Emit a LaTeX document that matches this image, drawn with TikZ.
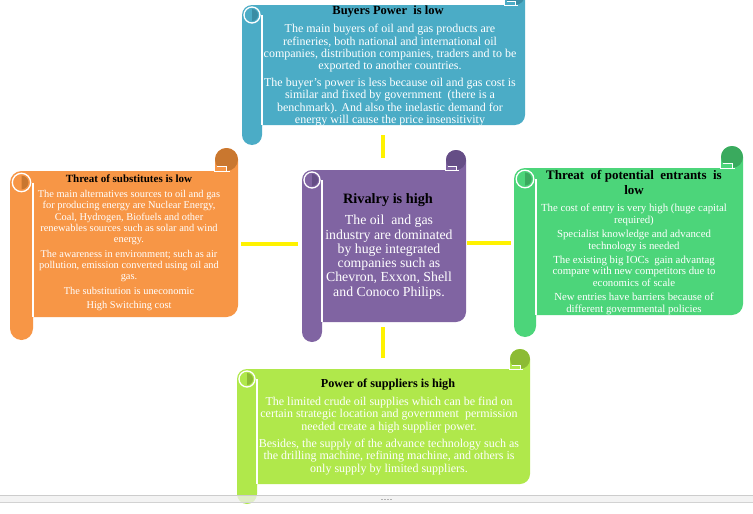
\documentclass[tikz,border=0pt]{standalone}
\usepackage{fontspec}
\setmainfont{Liberation Serif}
\definecolor{cblue}{HTML}{4BACC6}
\definecolor{dblue}{HTML}{3A8DA4}
\definecolor{corange}{HTML}{F79646}
\definecolor{dorange}{HTML}{C9772F}
\definecolor{cpurple}{HTML}{8064A2}
\definecolor{dpurple}{HTML}{654E86}
\definecolor{cgreen}{HTML}{4CD57A}
\definecolor{dgreen}{HTML}{3AAA5E}
\definecolor{clime}{HTML}{B0E84B}
\definecolor{dlime}{HTML}{8CBB34}
% #1 left, #2 top, #3 right, #4 bottom, #5 roll size, #6 body colour, #7 dark colour
\newcommand{\myscroll}[7]{%
  \pgfmathsetmacro{\hc}{#5/2}%
  \fill[#6] (#1+\hc,#2+#5) -- (#3-#5,#2+#5) -- (#3-#5,#2+\hc)
     arc[start angle=180,end angle=360,radius=\hc]
     -- (#3,#4-#5-\hc) arc[start angle=0,end angle=90,radius=\hc]
     -- (#1+\hc,#4-#5) -- cycle;
  \fill[#7] (#3-\hc,#2+\hc) circle[radius=\hc];
  \fill[#6] (#3-#5+1.5,#2+0.8*#5) rectangle (#3-\hc,#2+#5);
  \draw[white,line width=0.9pt] (#3-#5+1.5,#2+0.8*#5) -- (#3-\hc,#2+0.8*#5) -- (#3-\hc,#2+#5);
  \draw[white,line width=1pt] (#3-#5-1,#2+#5) -- (#3-0.35*#5,#2+#5);
  \fill[#6] (#1,#2+#5+\hc) arc[start angle=180,end angle=360,radius=\hc]
     -- (#1+#5,#4-\hc) arc[start angle=0,end angle=180,radius=\hc] -- cycle;
  \draw[white,line width=1.3pt] (#1+#5,#2+#5+\hc) -- (#1+#5,#4-#5);
  \fill[#7] (#1+\hc,#2+#5+\hc-0.3*#5) arc[start angle=270,end angle=450,radius=0.3*#5] -- cycle;
  \draw[white,line width=1.3pt] (#1+\hc,#2+#5+\hc) circle[radius=0.4*#5];
}
\tikzset{
  ttl/.style={text=black,align=center,inner sep=0pt,anchor=north},
  bdy/.style={text=white,align=center,inner sep=0pt,anchor=north},
  conn/.style={draw=yellow,line width=3.5pt},
  area/.style={inner sep=0pt,draw=none,fill=none}
}
\begin{document}
\begin{tikzpicture}[x=1pt,y=-1pt]
\useasboundingbox (0,0) rectangle (753,514);
\clip (0,0) rectangle (753,514);
\fill[white] (0,0) rectangle (753,514);

% scroll shapes
\myscroll{242}{-15}{525}{145}{20}{cblue}{dblue}
\myscroll{10}{148}{238}{340}{23}{corange}{dorange}
\myscroll{302}{150}{466}{342}{20}{cpurple}{dpurple}
\myscroll{514}{146}{743}{337}{22}{cgreen}{dgreen}
\myscroll{237}{349}{530}{504}{20}{clime}{dlime}

% invisible body areas
\node[area,minimum width=283pt,minimum height=120pt] (buy) at (383.5,65) {};
\node[area,minimum width=228pt,minimum height=146pt] (sub) at (124,244) {};
\node[area,minimum width=164pt,minimum height=152pt] (riv) at (383,246) {};
\node[area,minimum width=229pt,minimum height=147pt] (ent) at (628.5,241.5) {};
\node[area,minimum width=293pt,minimum height=115pt] (sup) at (383.5,426.5) {};

% connectors
\draw[conn,shorten <=10pt,shorten >=12pt] (riv.north |- buy.south) -- (riv.north);
\draw[conn,shorten <=3pt,shorten >=3pt] ([yshift=2pt]riv.west -| sub.east) -- ([yshift=2pt]riv.west);
\draw[conn,shorten <=2pt,shorten >=3pt] ([yshift=3pt]riv.east) -- ([yshift=3pt]riv.east -| ent.west);
\draw[conn,shorten <=5pt,shorten >=11pt] (riv.south) -- (riv.south |- sup.north);

% texts
\begin{scope}
\clip (242,0) rectangle (525,125.5);
\node[ttl,font=\bfseries\fontsize{12.5}{14}\selectfont] (buyT) at (388,5.5) {Buyers Power\ \ is low};
\node[bdy,font=\fontsize{12}{12.4}\selectfont] (buyP) at (390,24) {The main buyers of oil and gas products are\\refineries, both national and international oil\\companies, distribution companies, traders and to be\\exported to another countries.\\[4.3pt]The buyer’s power is less because oil and gas cost is\\similar and fixed by government~ (there is a\\benchmark). And also the inelastic demand for\\energy will cause the price insensitivity};
\end{scope}

\node[ttl,font=\bfseries\fontsize{11}{13}\selectfont] (subT) at (129,175) {Threat of substitutes is low};
\node[bdy,font=\fontsize{10.4}{11.2}\selectfont] (subP) at (129,190.3) {The main alternatives sources to oil and gas\\for producing energy are Nuclear Energy,\\Coal, Hydrogen, Biofuels and other\\renewables sources such as solar and wind\\energy.\\[3.6pt]The awareness in environment; such as air\\pollution, emission converted using oil and\\gas.\\[3.6pt]The substitution is uneconomic\\[3.2pt]High Switching cost};

\node[ttl,font=\bfseries\fontsize{14.3}{16}\selectfont] (rivT) at (388,193) {Rivalry is high};
\node[bdy,font=\fontsize{13.8}{14.3}\selectfont] (rivP) at (389,215) {The oil~ and gas\\industry are dominated\\by huge integrated\\companies such as\\Chevron, Exxon, Shell\\and Conoco Philips.};

\node[ttl,font=\bfseries\fontsize{13}{15}\selectfont] (entT) at (634,170.3) {Threat~ of potential~ entrants~ is\\low};
\node[bdy,font=\fontsize{10.8}{11.7}\selectfont] (entP) at (634,204) {The cost of entry is very high (huge capital\\required)\\[2.3pt]Specialist knowledge and advanced\\technology is needed\\[2.3pt]The existing big IOCs~ gain advantag\\compare with new competitors due to\\economics of scale\\[2.3pt]New entries have barriers because of\\different governmental policies};

\node[ttl,font=\bfseries\fontsize{12.2}{14}\selectfont] (supT) at (388,378.6) {Power of suppliers is high};
\node[bdy,font=\fontsize{12}{12.5}\selectfont] (supP) at (389,396.7) {The limited crude oil supplies which can be find on\\certain strategic location and government~ permission\\needed create a high supplier power.\\[4.5pt]Besides, the supply of the advance technology such as\\the drilling machine, refining machine, and others is\\only supply by limited suppliers.};

% bottom scroll band
\fill[gray!12,opacity=0.75] (0,495) rectangle (753,503);
\draw[gray!40,line width=1pt] (0,495.5) -- (753,495.5);
\draw[gray!35,line width=1pt] (0,502.5) -- (753,502.5);
\foreach \gx in {381,384,387,390} \fill[gray!60] (\gx,498.8) rectangle (\gx+1.6,500.4);
\end{tikzpicture}
\end{document}
